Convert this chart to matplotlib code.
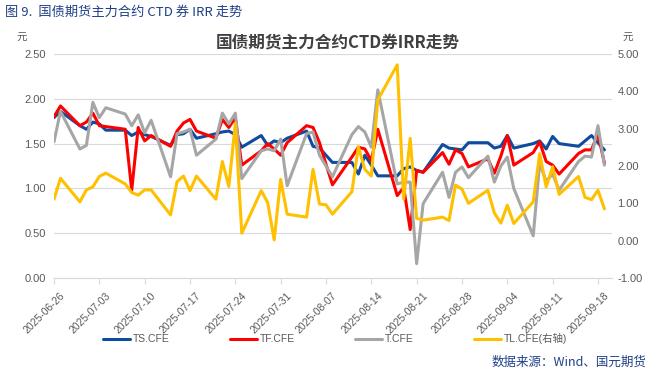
import matplotlib.pyplot as plt
import matplotlib.transforms as mtransforms
import numpy as np
import pandas as pd

plt.rcParams['font.family'] = ['Liberation Sans', 'Noto Sans CJK SC']

# trading days 2025-06-26 .. 2025-09-19 (no holidays in this window)
dates = pd.bdate_range('2025-06-26', '2025-09-19')

ts = [1.79, 1.86, 1.70, 1.66, 1.74, 1.72, 1.65, 1.65, 1.59, 1.63,
      1.60, 1.58, 1.48, 1.60, 1.61, 1.66, 1.56, 1.61, 1.63, 1.64,
      1.60, 1.46, 1.59, 1.48, 1.53, 1.51, 1.56, 1.64, 1.47, 1.45,
      1.37, 1.29, 1.29, 1.16, 1.37, 1.26, 1.14, 1.14, 1.22, 1.24,
      1.20, 1.18, 1.49, 1.45, 1.44, 1.43, 1.51, 1.51, 1.45, 1.47,
      1.59, 1.45, 1.50, 1.53, 1.44, 1.58, 1.50, 1.47, 1.53, 1.59,
      1.51, 1.43]
tf = [1.80, 1.92, 1.70, 1.74, 1.84, 1.70, 1.69, 1.66, 0.98, 1.68,
      1.53, 1.59, 1.47, 1.64, 1.73, 1.77, 1.64, 1.56, 1.77, 1.68,
      1.79, 1.26, 1.42, 1.50, 1.44, 1.37, 1.51, 1.70, 1.68, 1.51,
      1.27, 1.04, 1.35, 1.46, 1.44, 1.31, 1.66, 0.92, 1.01, 0.54,
      1.20, 1.18, 1.40, 1.27, 1.43, 1.39, 1.24, 1.33, 1.17, 1.36,
      1.59, 1.26, 1.40, 1.52, 1.30, 1.26, 1.16, 1.39, 1.43, 1.43,
      1.61, 1.28]
t = [1.52, 1.86, 1.44, 1.48, 1.96, 1.79, 1.90, 1.83, 1.70, 1.82,
     1.62, 1.76, 1.13, 1.61, 1.63, 1.66, 1.37, 1.55, 1.84, 1.72,
     1.84, 1.11, 1.42, 1.44, 1.42, 1.55, 1.03, 1.61, 1.63, 1.37,
     1.25, 1.13, 1.60, 1.69, 1.63, 1.46, 2.10, 1.05, 1.07, 1.07,
     0.16, 0.83, 1.18, 0.90, 1.18, 1.24, 1.12, 1.36, 1.07, 1.25,
     1.35, 1.00, 0.47, 1.28, 1.08, 1.16, 0.98, 1.30, 1.36, 1.35,
     1.70, 1.26]
tl = [1.11, 1.67, 1.04, 1.36, 1.44, 1.72, 1.81, 1.52, 1.29, 1.22,
      1.36, 1.36, 0.69, 1.58, 1.73, 1.34, 1.73, 1.11, 2.12, 1.45,
      3.14, 0.20, 1.34, 1.02, 0.02, 1.64, 0.71, 0.63, 1.91, 0.98,
      0.96, 0.71, 1.31, 2.52, 1.91, 1.73, 3.77, 4.71, 1.11, 2.74,
      0.60, 0.55, 0.63, 0.54, 1.49, 1.38, 1.00, 1.35, 0.74, 0.47,
      0.95, 0.46, 1.04, 2.33, 1.44, 1.98, 1.24, 1.72, 1.16, 1.10,
      1.35, 0.85]

tick_dates = pd.date_range('2025-06-26', '2025-09-18', freq='7D')

navy = '#1F3F86'
grey_txt = '#595959'

fig = plt.figure(figsize=(6.49, 3.75), dpi=100)
ax = fig.add_axes([54 / 649, 1 - 278 / 375, 558 / 649, 224 / 375])
ax2 = ax.twinx()

kw = dict(lw=2.2, solid_joinstyle='round', solid_capstyle='round')
l1, = ax.plot(dates, ts, color='#0F4C9F', label='TS.CFE', **kw)
l2, = ax.plot(dates, tf, color='#FF0000', label='TF.CFE', **kw)
l3, = ax.plot(dates, t, color='#A6A6A6', label='T.CFE', **kw)
l4, = ax2.plot(dates, tl, color='#FFC000', label='TL.CFE(右轴)', **kw)

ax.set_xlim(pd.Timestamp('2025-06-26'), pd.Timestamp('2025-09-20 04:00'))
ax.set_ylim(0, 2.5)
ax.set_yticks(np.arange(0, 2.51, 0.5))
ax.set_yticklabels([f'{v:.2f}' for v in np.arange(0, 2.51, 0.5)])
ax2.set_ylim(-1, 5)
ax2.set_yticks(np.arange(-1, 5.1, 1))
ax2.set_yticklabels([f'{v:.2f}' for v in np.arange(-1, 5.1, 1)])

ax.grid(axis='y', color='#D9D9D9', lw=0.8)
ax.set_axisbelow(True)
for s in ['top', 'left', 'right']:
    ax.spines[s].set_visible(False)
    ax2.spines[s].set_visible(False)
ax.spines['bottom'].set_color('#D9D9D9')
ax2.spines['bottom'].set_visible(False)

ax.tick_params(axis='y', length=0, pad=6, labelsize=8, labelcolor=grey_txt)
ax2.tick_params(axis='y', length=0, pad=4, labelsize=8, labelcolor=grey_txt)
ax.set_xticks(tick_dates)
ax.set_xticklabels([d.strftime('%Y-%m-%d') for d in tick_dates],
                   rotation=45, ha='right', va='top', rotation_mode='anchor')
ax.tick_params(axis='x', length=4, color='#D9D9D9', pad=5,
               labelsize=7.5, labelcolor=grey_txt)
shift = mtransforms.ScaledTranslation(6 / 100, 0, fig.dpi_scale_trans)
for lab in ax.get_xticklabels():
    lab.set_transform(lab.get_transform() + shift)

cjk = ['Noto Sans CJK SC', 'DejaVu Sans']
fig.text(5 / 649, 1 - 12 / 375, '图 9.  国债期货主力合约 CTD 券 IRR 走势',
         fontsize=9.5, color=navy, va='center', family=cjk)
fig.text(338 / 649, 1 - 42 / 375, '国债期货主力合约CTD券IRR走势',
         fontsize=12, fontweight='bold', color='#404040',
         ha='center', va='center', family=cjk)
fig.text(22 / 649, 1 - 38 / 375, '元', fontsize=7.5, color=grey_txt,
         ha='center', va='center', family=cjk)
fig.text(628 / 649, 1 - 38 / 375, '元', fontsize=7.5, color=grey_txt,
         ha='center', va='center', family=cjk)
fig.text(646 / 649, 1 - 362 / 375, '数据来源：Wind、国元期货',
         fontsize=9, color=navy, ha='right', va='center', family=cjk)

leg = fig.legend([l1, l2, l3, l4], [l.get_label() for l in [l1, l2, l3, l4]],
                 loc='center', bbox_to_anchor=(335 / 649, 1 - 339 / 375),
                 ncol=4, frameon=False, fontsize=7.5, handlelength=2.6,
                 handletextpad=0.3, columnspacing=5.75)
for txt in leg.get_texts():
    txt.set_color(grey_txt)

fig.savefig('out.png', dpi=100)
